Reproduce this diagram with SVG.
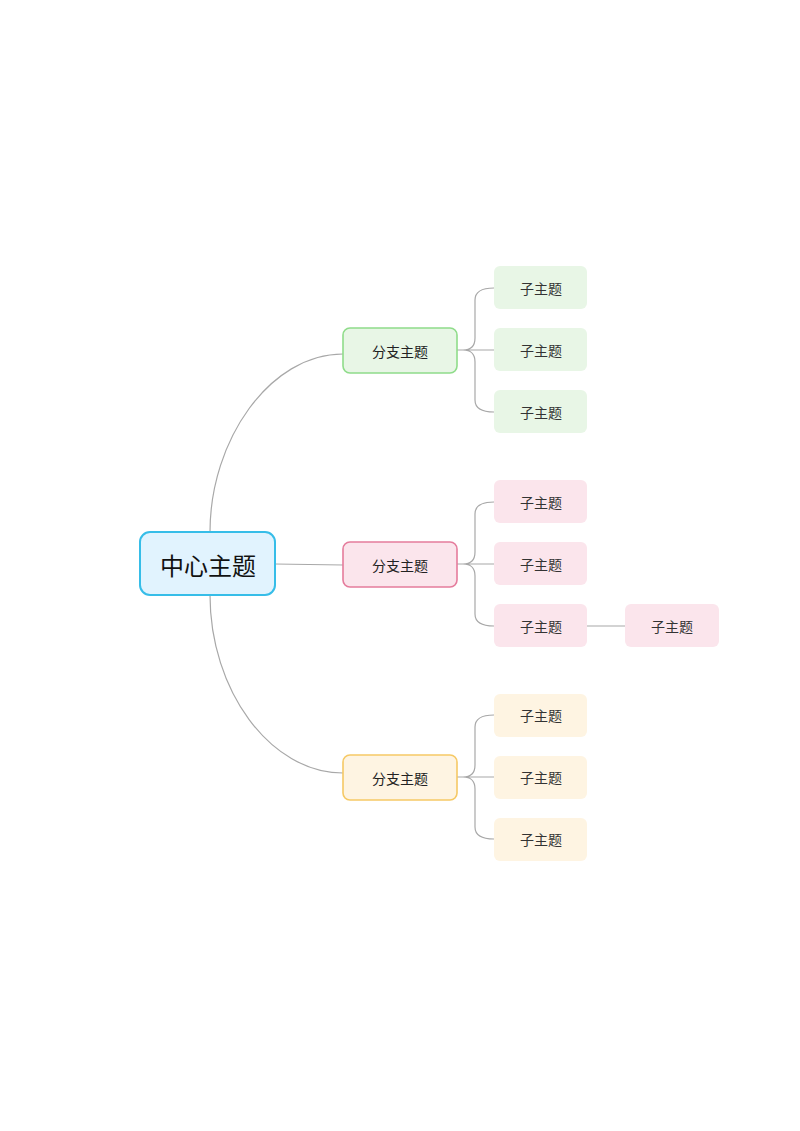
<svg xmlns="http://www.w3.org/2000/svg" width="800" height="1131" viewBox="0 0 800 1131">
<style>
text{font-family:"Noto Sans CJK SC","Noto Sans",sans-serif;text-anchor:middle;dominant-baseline:central;fill:#222}
.b{font-size:14px}.s{font-size:14px;fill:#333}
.c path{fill:none;stroke:#a8a8a8;stroke-width:1.2}
</style>
<rect width="800" height="1131" fill="#fff"/>
<g class="c">
<path d="M210,532 C210,440 270,354 343,354"/>
<path d="M275,564 L343,565"/>
<path d="M210,595 C210,690 270,773 343,773"/>
<path d="M452,350 H463 Q475,350 475,338 V300 Q475,288 494,288 M463,350 H494 M463,350 Q475,350 475,362 V400 Q475,412 494,412"/>
<path d="M452,564 H463 Q475,564 475,552 V514 Q475,502 494,502 M463,564 H494 M463,564 Q475,564 475,576 V614 Q475,626 494,626"/>
<path d="M587,626 H625"/>
<path d="M452,777 H463 Q475,777 475,765 V727 Q475,715 494,715 M463,777 H494 M463,777 Q475,777 475,789 V827 Q475,839 494,839"/>
</g>
<g id="center"><rect x="140" y="532" width="135" height="63" rx="10" fill="#e1f3fe" stroke="#36bde8" stroke-width="2"/><text x="208" y="564" style="font-size:24px;fill:#111">中心主题</text></g>
<g id="b1"><rect x="343" y="328" width="114" height="45" rx="7" fill="#e8f6e6" stroke="#8fdc8a" stroke-width="1.6"/><text class="b" x="400" y="351">分支主题</text></g>
<g id="b2"><rect x="343" y="542" width="114" height="45" rx="7" fill="#fbe5ec" stroke="#e57c9c" stroke-width="1.6"/><text class="b" x="400" y="565">分支主题</text></g>
<g id="b3"><rect x="343" y="755" width="114" height="45" rx="7" fill="#fef4e2" stroke="#f6c965" stroke-width="1.6"/><text class="b" x="400" y="778">分支主题</text></g>
<g id="g1"><rect x="494" y="266" width="93" height="43" rx="6" fill="#e8f6e6"/><text class="s" x="541" y="288">子主题</text></g>
<g id="g2"><rect x="494" y="328" width="93" height="43" rx="6" fill="#e8f6e6"/><text class="s" x="541" y="350">子主题</text></g>
<g id="g3"><rect x="494" y="390" width="93" height="43" rx="6" fill="#e8f6e6"/><text class="s" x="541" y="412">子主题</text></g>
<g id="p1"><rect x="494" y="480" width="93" height="43" rx="6" fill="#fbe5ec"/><text class="s" x="541" y="502">子主题</text></g>
<g id="p2"><rect x="494" y="542" width="93" height="43" rx="6" fill="#fbe5ec"/><text class="s" x="541" y="564">子主题</text></g>
<g id="p3"><rect x="494" y="604" width="93" height="43" rx="6" fill="#fbe5ec"/><text class="s" x="541" y="626">子主题</text></g>
<g id="p4"><rect x="625" y="604" width="94" height="43" rx="6" fill="#fbe5ec"/><text class="s" x="672" y="626">子主题</text></g>
<g id="y1"><rect x="494" y="694" width="93" height="43" rx="6" fill="#fef4e2"/><text class="s" x="541" y="715">子主题</text></g>
<g id="y2"><rect x="494" y="756" width="93" height="43" rx="6" fill="#fef4e2"/><text class="s" x="541" y="777">子主题</text></g>
<g id="y3"><rect x="494" y="818" width="93" height="43" rx="6" fill="#fef4e2"/><text class="s" x="541" y="839">子主题</text></g>
</svg>
